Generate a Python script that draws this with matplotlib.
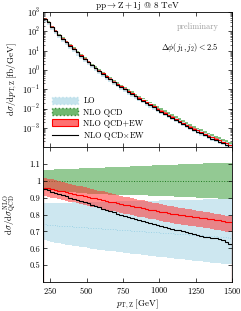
import numpy as np
import matplotlib
matplotlib.use("Agg")
import matplotlib.pyplot as plt
from matplotlib.patches import Patch
from matplotlib.lines import Line2D

plt.rcParams['font.family'] = 'serif'
plt.rcParams['font.serif'] = ['cmr10', 'DejaVu Serif']
plt.rcParams['mathtext.fontset'] = 'cm'
plt.rcParams['axes.formatter.use_mathtext'] = True
plt.rcParams['font.size'] = 6

# bin edges (GeV), 25 GeV bins from 200 to 1500
edges = np.arange(200, 1525, 25)

# NLO QCD central value [fb/GeV]
nlo_qcd = [479, 316, 186, 112, 69.2, 45.7, 30.9, 20.4, 13.8, 9.12, 6.17, 4.17, 2.88,
           2.00, 1.41, 1.00, 0.741, 0.537, 0.398, 0.288, 0.214, 0.162, 0.123, 0.0933, 0.0724, 0.0550,
           0.0427, 0.0331, 0.0257, 0.0200, 0.0155, 0.0120, 0.00933, 0.00741, 0.00575, 0.00457, 0.00355,
           0.00282, 0.00224, 0.00178, 0.00141, 0.00115, 0.000933, 0.000759, 0.000617, 0.000513,
           0.000417, 0.000347, 0.000288, 0.000240, 0.000204, 0.000170]

# ratios to NLO QCD
qcd_up = [1.065, 1.066, 1.067, 1.068, 1.068, 1.069, 1.070, 1.071, 1.072, 1.073, 1.074, 1.075, 1.075,
          1.076, 1.077, 1.078, 1.079, 1.080, 1.081, 1.081, 1.082, 1.083, 1.084, 1.085, 1.086, 1.087,
          1.087, 1.088, 1.089, 1.090, 1.091, 1.092, 1.093, 1.093, 1.094, 1.095, 1.096, 1.097, 1.098,
          1.099, 1.099, 1.100, 1.101, 1.102, 1.103, 1.104, 1.105, 1.105, 1.106, 1.107, 1.108, 1.108]
qcd_dn = [0.952, 0.948, 0.945, 0.942, 0.940, 0.938, 0.936, 0.934, 0.932, 0.930, 0.928, 0.927, 0.925,
          0.924, 0.923, 0.922, 0.921, 0.920, 0.919, 0.918, 0.918, 0.917, 0.917, 0.916, 0.916, 0.915,
          0.915, 0.914, 0.914, 0.913, 0.912, 0.912, 0.911, 0.910, 0.909, 0.908, 0.907, 0.906, 0.905,
          0.904, 0.903, 0.902, 0.901, 0.900, 0.899, 0.898, 0.897, 0.896, 0.895, 0.894, 0.893, 0.892]

lo_c = [0.742, 0.740, 0.738, 0.737, 0.735, 0.734, 0.732, 0.731, 0.729, 0.728, 0.726, 0.725, 0.723,
        0.722, 0.720, 0.719, 0.717, 0.716, 0.714, 0.713, 0.711, 0.710, 0.708, 0.707, 0.705, 0.704,
        0.702, 0.701, 0.699, 0.698, 0.696, 0.695, 0.693, 0.692, 0.690, 0.689, 0.687, 0.686, 0.684,
        0.683, 0.681, 0.680, 0.678, 0.677, 0.675, 0.674, 0.672, 0.671, 0.669, 0.668, 0.666, 0.663]
lo_up = [0.868, 0.868, 0.869, 0.869, 0.870, 0.870, 0.871, 0.871, 0.872, 0.872, 0.873, 0.873, 0.874,
         0.874, 0.875, 0.875, 0.876, 0.876, 0.877, 0.877, 0.878, 0.878, 0.879, 0.879, 0.880, 0.880,
         0.881, 0.881, 0.882, 0.882, 0.883, 0.883, 0.884, 0.884, 0.885, 0.885, 0.886, 0.886, 0.887,
         0.887, 0.888, 0.888, 0.889, 0.889, 0.890, 0.890, 0.891, 0.891, 0.892, 0.892, 0.893, 0.894]
lo_dn = [0.648, 0.643, 0.638, 0.634, 0.630, 0.626, 0.622, 0.618, 0.615, 0.612, 0.608, 0.605, 0.602,
         0.599, 0.596, 0.593, 0.590, 0.587, 0.585, 0.582, 0.579, 0.577, 0.574, 0.571, 0.569, 0.566,
         0.564, 0.561, 0.559, 0.556, 0.554, 0.551, 0.549, 0.546, 0.544, 0.541, 0.539, 0.536, 0.534,
         0.531, 0.529, 0.527, 0.524, 0.522, 0.520, 0.517, 0.515, 0.513, 0.511, 0.509, 0.507, 0.505]

ew_c = [0.960, 0.955, 0.951, 0.946, 0.941, 0.937, 0.932, 0.928, 0.923, 0.918, 0.914, 0.909, 0.905,
        0.900, 0.896, 0.891, 0.886, 0.882, 0.877, 0.873, 0.868, 0.864, 0.859, 0.855, 0.851, 0.847,
        0.843, 0.839, 0.835, 0.830, 0.826, 0.822, 0.818, 0.814, 0.810, 0.806, 0.803, 0.800, 0.797,
        0.794, 0.791, 0.788, 0.785, 0.782, 0.779, 0.776, 0.773, 0.770, 0.767, 0.763, 0.759, 0.755]
ew_up = [1.018, 1.013, 1.008, 1.003, 0.997, 0.993, 0.987, 0.983, 0.977, 0.972, 0.967, 0.962, 0.958,
         0.952, 0.948, 0.942, 0.937, 0.932, 0.927, 0.922, 0.917, 0.912, 0.907, 0.902, 0.898, 0.894,
         0.889, 0.885, 0.880, 0.875, 0.870, 0.866, 0.861, 0.857, 0.852, 0.848, 0.844, 0.841, 0.838,
         0.834, 0.831, 0.827, 0.824, 0.820, 0.817, 0.813, 0.810, 0.806, 0.803, 0.798, 0.794, 0.790]
ew_dn = [0.910, 0.905, 0.901, 0.896, 0.891, 0.886, 0.881, 0.877, 0.872, 0.867, 0.863, 0.858, 0.853,
         0.847, 0.843, 0.838, 0.833, 0.829, 0.823, 0.819, 0.814, 0.810, 0.805, 0.801, 0.796, 0.792,
         0.788, 0.784, 0.780, 0.775, 0.771, 0.767, 0.762, 0.758, 0.754, 0.750, 0.747, 0.744, 0.741,
         0.736, 0.733, 0.730, 0.727, 0.724, 0.721, 0.718, 0.715, 0.711, 0.708, 0.704, 0.699, 0.695]

mult = [0.950, 0.943, 0.936, 0.929, 0.922, 0.915, 0.908, 0.901, 0.894, 0.887, 0.880, 0.873, 0.866,
        0.859, 0.851, 0.844, 0.836, 0.829, 0.821, 0.814, 0.806, 0.799, 0.792, 0.786, 0.780, 0.774,
        0.768, 0.762, 0.756, 0.750, 0.744, 0.738, 0.733, 0.728, 0.722, 0.717, 0.711, 0.706, 0.700,
        0.695, 0.690, 0.684, 0.678, 0.673, 0.669, 0.665, 0.660, 0.662, 0.655, 0.648, 0.640, 0.628]

nlo = np.array(nlo_qcd)

c_lo = '#add8e6'
c_qcd = '#4ca64c'
c_ew = '#ff3333'

fig = plt.figure(figsize=(2.41, 3.11), dpi=100)
ax1 = fig.add_axes([0.178, 0.527, 0.785, 0.434])
ax2 = fig.add_axes([0.178, 0.093, 0.785, 0.434])

# upper panel
ax1.stairs(nlo * np.array(lo_up), edges, baseline=nlo * np.array(lo_dn), fill=True,
           color=c_lo, alpha=0.6, lw=0)
ax1.stairs(nlo * np.array(qcd_up), edges, baseline=nlo * np.array(qcd_dn), fill=True,
           color=c_qcd, alpha=0.7, lw=0)
ax1.stairs(nlo * np.array(ew_up), edges, baseline=nlo * np.array(ew_dn), fill=True,
           color=c_ew, alpha=0.7, lw=0)
ax1.stairs(nlo * np.array(ew_c), edges, color='red', lw=0.8)
ax1.stairs(nlo * np.array(mult), edges, color='black', lw=0.8)
ax1.set_yscale('log')
ax1.set_xlim(200, 1500)
ax1.set_ylim(1e-4, 1e3)
ax1.set_xticks([250, 500, 750, 1000, 1250, 1500])
ax1.set_xticklabels([])
ax1.set_yticks([1e-3, 1e-2, 1e-1, 1, 10, 100, 1000])
ax1.set_ylabel(r'$\mathrm{d}\sigma/\mathrm{d}p_{\mathrm{T,Z}}\,[\mathrm{fb/GeV}]$', fontsize=6.5)
ax1.set_title(r'$\mathrm{pp}\rightarrow\mathrm{Z}+1\mathrm{j}$ @ 8 TeV', fontsize=6.5, pad=2)
ax1.text(0.93, 0.89, 'preliminary', transform=ax1.transAxes, ha='right', va='center',
         color='#a0a0a0', fontsize=6)
ax1.text(0.93, 0.74, r'$\Delta\phi(j_1, j_2) < 2.5$', transform=ax1.transAxes, ha='right',
         va='center', fontsize=6)

handles = [Patch(facecolor=c_lo, edgecolor=c_lo, alpha=0.7, linestyle=':'),
           Patch(facecolor=c_qcd, edgecolor='#1f7a1f', alpha=0.8, linestyle=':'),
           Patch(facecolor='#ff7070', edgecolor='red', lw=0.8),
           Line2D([], [], color='black', lw=0.8)]
labels = ['LO', 'NLO QCD', 'NLO QCD+EW', r'NLO QCD$\times$EW']
ax1.legend(handles, labels, loc='lower left', frameon=False, fontsize=6,
           handlelength=3.2, handleheight=1.0, labelspacing=0.3, borderaxespad=0.2,
           handletextpad=0.6, bbox_to_anchor=(0.02, 0.0))

# lower panel
ax2.stairs(lo_up, edges, baseline=lo_dn, fill=True, color=c_lo, alpha=0.6, lw=0)
ax2.stairs(lo_c, edges, color='#9fd3e6', lw=0.7, ls=':')
ax2.stairs(qcd_up, edges, baseline=qcd_dn, fill=True, color=c_qcd, alpha=0.6, lw=0)
ax2.stairs(np.ones(len(nlo)), edges, color='#1f7a1f', lw=0.7, ls=':')
ax2.stairs(ew_up, edges, baseline=ew_dn, fill=True, color=c_ew, alpha=0.55, lw=0)
ax2.stairs(ew_c, edges, color='red', lw=0.8)
ax2.stairs(mult, edges, color='black', lw=0.8)
ax2.set_xlim(200, 1500)
ax2.set_ylim(0.4, 1.2)
ax2.set_xticks([250, 500, 750, 1000, 1250, 1500])
ax2.set_yticks([0.5, 0.6, 0.7, 0.8, 0.9, 1.0, 1.1])
ax2.set_yticklabels(['0.5', '0.6', '0.7', '0.8', '0.9', '1', '1.1'])
ax2.set_xlabel(r'$p_{\mathrm{T,Z}}\;[\mathrm{GeV}]$', fontsize=6.5, labelpad=1)
ax2.set_ylabel(r'$\mathrm{d}\sigma/\mathrm{d}\sigma^{\mathrm{NLO}}_{\mathrm{QCD}}$', fontsize=6.5)

for ax in (ax1, ax2):
    ax.tick_params(direction='in', top=True, right=True, labelsize=6, length=3, width=0.5, pad=2)
    ax.tick_params(which='minor', direction='in', top=True, right=True, length=1.5, width=0.4)
    for s in ax.spines.values():
        s.set_linewidth(0.6)
ax1.yaxis.set_label_coords(-0.125, 0.5)
ax2.yaxis.set_label_coords(-0.125, 0.5)

fig.savefig('out.png', dpi=100)
